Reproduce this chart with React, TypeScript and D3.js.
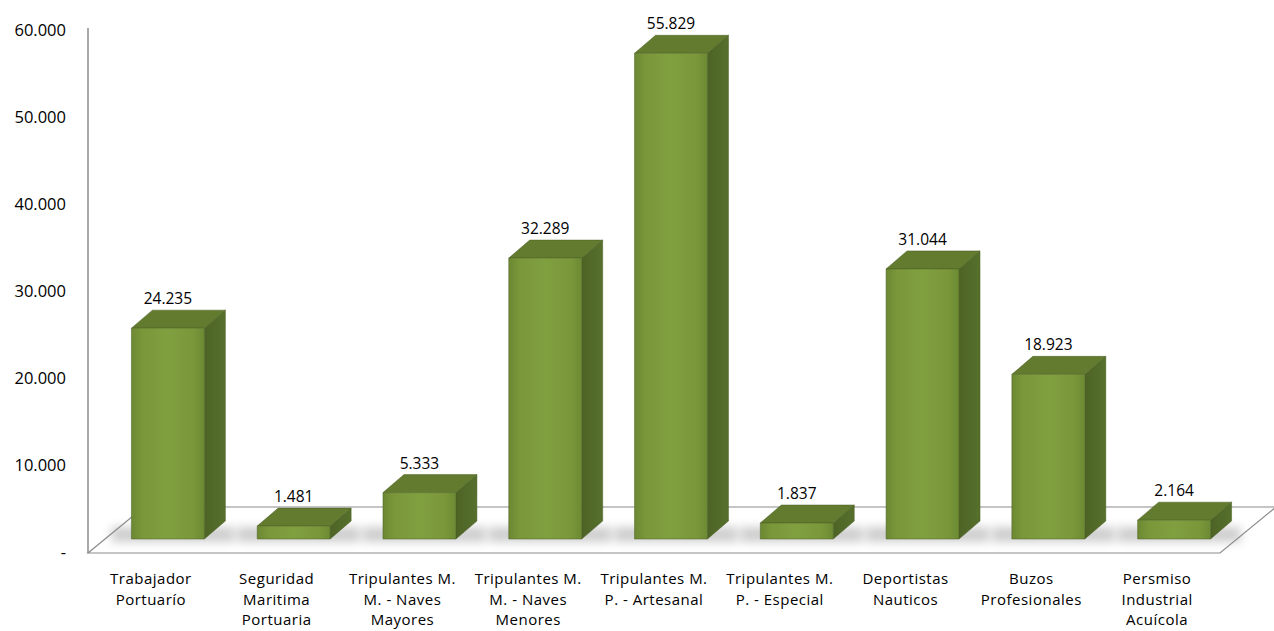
import * as d3 from "d3";
import React from "react";

const categories: string[][] = [
	["Trabajador", "Portuarío"],
	["Seguridad", "Maritima", "Portuaria"],
	["Tripulantes M.", "M. - Naves", "Mayores"],
	["Tripulantes M.", "M. - Naves", "Menores"],
	["Tripulantes M.", "P. - Artesanal"],
	["Tripulantes M.", "P. - Especial"],
	["Deportistas", "Nauticos"],
	["Buzos", "Profesionales"],
	["Persmiso", "Industrial", "Acuícola"],
];
const values = [24235, 1481, 5333, 32289, 55829, 1837, 31044, 18923, 2164];
const valueLabels = ["24.235", "1.481", "5.333", "32.289", "55.829", "1.837", "31.044", "18.923", "2.164"];
const yTicks = [0, 10000, 20000, 30000, 40000, 50000, 60000];
const yTickLabels = ["-", "10.000", "20.000", "30.000", "40.000", "50.000", "60.000"];

const W = 1274,
	H = 631;
const floorFront = 553,
	axisTop = 31;
const depth = { x: 56, y: -46 }; // floor depth
const barDepth = { x: 21, y: -18 };
const barShift = { x: 17, y: -14 }; // bars sit a bit back on the floor
const font = "'Open Sans', 'Noto Sans', sans-serif";

const App = () => {
	const ids = categories.map((c) => c.join(" "));
	const x = d3.scaleBand().domain(ids).range([88, 1220]).paddingInner(0.42).paddingOuter(0.21);
	const y = d3.scaleLinear().domain([0, 60000]).range([floorFront, axisTop]);
	const base = floorFront + barShift.y;

	return (
		<svg width={W} height={H} style={{ position: "absolute", left: 0, top: 0, background: "#fff" }}>
			<defs>
				<linearGradient id="front" x1="0" x2="1" y1="0" y2="0">
					<stop offset="0" stopColor="#6c8933" />
					<stop offset="0.15" stopColor="#7a973a" />
					<stop offset="0.5" stopColor="#80a040" />
					<stop offset="0.85" stopColor="#7a973a" />
					<stop offset="1" stopColor="#6c8a33" />
				</linearGradient>
				<linearGradient id="side" x1="0" x2="1" y1="0" y2="0">
					<stop offset="0" stopColor="#4d6326" />
					<stop offset="1" stopColor="#56702c" />
				</linearGradient>
				<filter id="blur" x="-50%" y="-100%" width="200%" height="300%">
					<feGaussianBlur stdDeviation="5" />
				</filter>
			</defs>

			{/* floor */}
			<path
				d={`M88,${floorFront} L1220,${floorFront} L${1220 + depth.x},${floorFront + depth.y} L${88 + depth.x},${floorFront + depth.y} Z`}
				fill="#fff"
				stroke="#8c8c8c"
				strokeWidth={1.2}
			/>
			<line x1={88} x2={88} y1={28} y2={floorFront} stroke="#8c8c8c" strokeWidth={1.5} />

			{/* shadows */}
			{ids.map((id, i) => {
				const x0 = x(id)! + barShift.x;
				return (
					<rect
						key={"s" + i}
						x={x0 - 20}
						y={base - 12}
						width={x.bandwidth() + 50}
						height={15}
						fill="#8a8a8a"
						opacity={0.42}
						filter="url(#blur)"
					/>
				);
			})}

			{/* bars */}
			{ids.map((id, i) => {
				const x0 = x(id)! + barShift.x;
				const x1 = x0 + x.bandwidth();
				const yt = y(values[i]) + barShift.y;
				const dx = barDepth.x,
					dy = barDepth.y;
				return (
					<g key={"b" + i} stroke="#4a5f22" strokeWidth={0.5} strokeLinejoin="round">
						<path d={`M${x1},${yt} L${x1 + dx},${yt + dy} L${x1 + dx},${base + dy} L${x1},${base} Z`} fill="url(#side)" />
						<path d={`M${x0},${yt} L${x0 + dx},${yt + dy} L${x1 + dx},${yt + dy} L${x1},${yt} Z`} fill="#637b2f" />
						<rect x={x0} y={yt} width={x1 - x0} height={base - yt} fill="url(#front)" />
						<text
							x={(x0 + x1) / 2}
							y={yt + dy - 6}
							textAnchor="middle"
							fontFamily={font}
							fontSize={15.5}
							fill="#000"
							stroke="none"
						>
							{valueLabels[i]}
						</text>
					</g>
				);
			})}

			{/* y labels */}
			{yTicks.map((t, i) => (
				<text key={"y" + i} x={66} y={y(t) + 5} textAnchor="end" fontFamily={font} fontSize={16.5} fill="#000">
					{yTickLabels[i]}
				</text>
			))}

			{/* category labels */}
			{categories.map((lines, i) => {
				const cx = x(ids[i])! + x.bandwidth() / 2;
				return (
					<text key={"c" + i} textAnchor="middle" fontFamily={font} fontSize={15} letterSpacing={0.5} fill="#000">
						{lines.map((l, j) => (
							<tspan key={j} x={cx} y={584 + j * 20.5}>
								{l}
							</tspan>
						))}
					</text>
				);
			})}
		</svg>
	);
};

export default App;
